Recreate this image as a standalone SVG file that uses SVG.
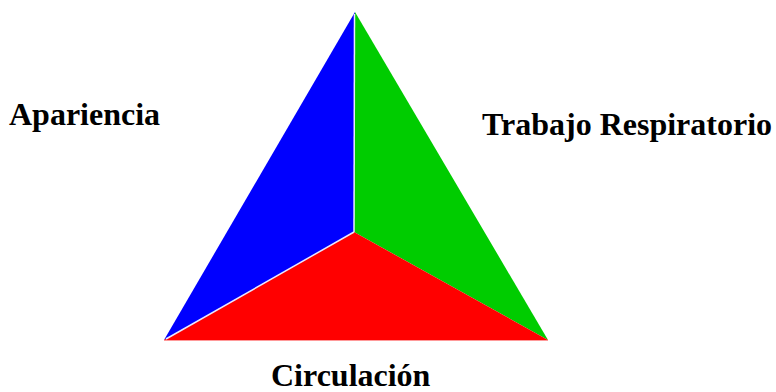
<svg xmlns="http://www.w3.org/2000/svg" width="776" height="392" viewBox="0 0 776 392">
  <style>
    .lbl { font-family: "Liberation Serif", "Times New Roman", serif; font-weight: bold; font-size: 32px; fill: #000; }
    .sep { stroke: #e8e8ff; stroke-width: 1.5; fill: none; }
  </style>
  <rect width="776" height="392" fill="#fff"/>
  <g id="face-apariencia">
    <polygon points="355,12 354,232 164,340" fill="#0000ff"/>
  </g>
  <g id="face-trabajo">
    <polygon points="355,12 548,340 354,232" fill="#00cc00"/>
  </g>
  <g id="face-circulacion">
    <polygon points="164,340 354,232 548,340" fill="#ff0000"/>
  </g>
  <g id="separators">
    <line class="sep" x1="354.5" y1="14" x2="354" y2="232"/>
    <line class="sep" x1="354" y1="232" x2="166" y2="339"/>
    <line x1="164" y1="340.5" x2="548" y2="340.5" stroke="#ff9999" stroke-width="1"/>
  </g>
  <g id="label-apariencia"><text class="lbl" x="9" y="125">Apariencia</text></g>
  <g id="label-trabajo"><text class="lbl" x="482" y="135">Trabajo Respiratorio</text></g>
  <g id="label-circulacion"><text class="lbl" x="271" y="386">Circulación</text></g>
</svg>
